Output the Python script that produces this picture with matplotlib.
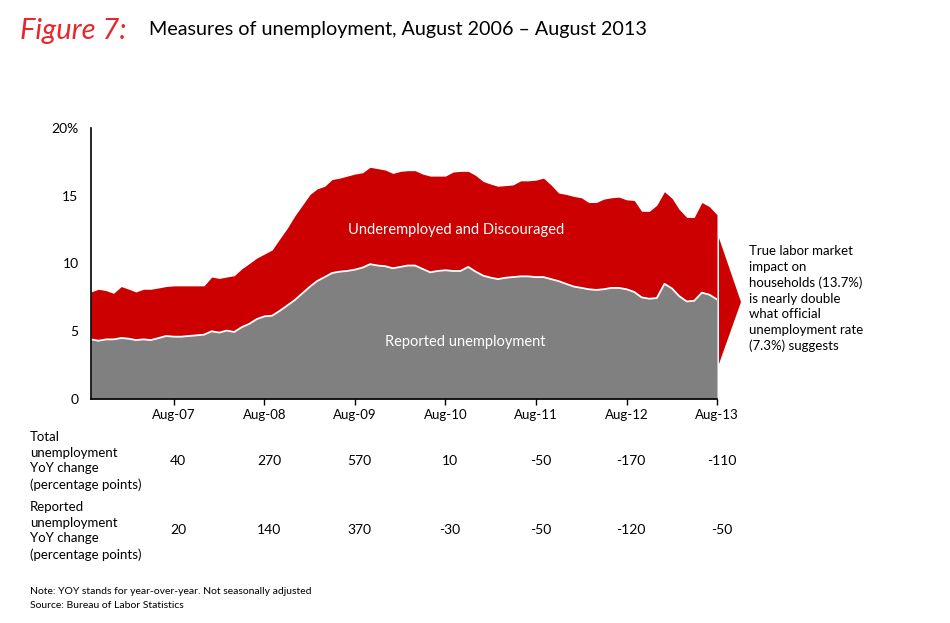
import numpy as np
import pandas as pd
import matplotlib
matplotlib.use('Agg')
import matplotlib.pyplot as plt
import matplotlib.transforms as mtransforms
from matplotlib.patches import Polygon

plt.rcParams['font.family'] = ['Lato', 'DejaVu Sans']

# Monthly data, Sep 2006 - Aug 2013 (percent)
months = pd.date_range('2006-09-01', periods=84, freq='MS')

total_unemployment = [
    7.9, 8.1, 8.0, 7.8, 8.3, 8.1, 7.9, 8.1, 8.1, 8.2, 8.3, 8.35,
    8.35, 8.35, 8.35, 8.35, 9.0, 8.9, 9.0, 9.1, 9.6, 10.0, 10.4, 10.7,
    11.0, 11.8, 12.6, 13.5, 14.3, 15.1, 15.5, 15.7, 16.2, 16.3, 16.45, 16.6,
    16.7, 17.1, 17.0, 16.9, 16.65, 16.8, 16.85, 16.85, 16.6, 16.45, 16.45, 16.45,
    16.75, 16.8, 16.8, 16.5, 16.05, 15.85, 15.7, 15.75, 15.8, 16.1, 16.1, 16.15,
    16.3, 15.8, 15.2, 15.1, 14.95, 14.85, 14.5, 14.5, 14.75, 14.85, 14.9, 14.7,
    14.65, 13.85, 13.85, 14.3, 15.3, 14.8, 14.0, 13.4, 13.4, 14.5, 14.2, 13.6,
]

reported_unemployment = [
    4.4, 4.3, 4.4, 4.4, 4.5, 4.45, 4.35, 4.4, 4.35, 4.5, 4.65, 4.6,
    4.6, 4.65, 4.7, 4.75, 5.0, 4.9, 5.05, 4.95, 5.3, 5.55, 5.9, 6.1,
    6.15, 6.5, 6.9, 7.3, 7.8, 8.3, 8.7, 9.0, 9.3, 9.4, 9.45, 9.55,
    9.7, 9.95, 9.85, 9.8, 9.65, 9.75, 9.85, 9.85, 9.6, 9.35, 9.45, 9.5,
    9.45, 9.45, 9.75, 9.4, 9.1, 8.95, 8.85, 8.95, 9.0, 9.05, 9.05, 9.0,
    9.0, 8.85, 8.7, 8.5, 8.3, 8.2, 8.1, 8.05, 8.1, 8.2, 8.2, 8.1,
    7.9, 7.5, 7.4, 7.45, 8.5, 8.15, 7.6, 7.2, 7.25, 7.85, 7.7, 7.35,
]

tick_dates = pd.to_datetime(['2007-08-01', '2008-08-01', '2009-08-01', '2010-08-01',
                             '2011-08-01', '2012-08-01', '2013-08-01'])
tick_labels = ['Aug-07', 'Aug-08', 'Aug-09', 'Aug-10', 'Aug-11', 'Aug-12', 'Aug-13']

total_yoy = ['40', '270', '570', '10', '-50', '-170', '-110']
reported_yoy = ['20', '140', '370', '-30', '-50', '-120', '-50']

RED = '#cc0000'
GREY = '#808080'

fig = plt.figure(figsize=(9.5, 6.23), dpi=100)
ax = fig.add_axes([91 / 950, 1 - 399 / 623, (717 - 91) / 950, (399 - 128) / 623])

x = months
tot = np.array(total_unemployment)
rep = np.array(reported_unemployment)

ax.fill_between(x, 0, rep, color=GREY, linewidth=0)
ax.fill_between(x, rep, tot, color=RED, linewidth=0)
ax.plot(x, rep, color='white', linewidth=1.3)

ax.set_xlim(months[0], months[-1])
ax.set_ylim(0, 20)
ax.set_yticks([0, 5, 10, 15, 20])
ax.set_yticklabels(['0', '5', '10', '15', '20%'])
ax.set_xticks(tick_dates)
ax.set_xticklabels(tick_labels)
ax.tick_params(axis='y', length=0, pad=9, labelsize=10)
ax.tick_params(axis='x', length=4, width=1, direction='out', pad=3, labelsize=9.5)
for s in ['top', 'right']:
    ax.spines[s].set_visible(False)
for s in ['left', 'bottom']:
    ax.spines[s].set_linewidth(1.2)
    ax.spines[s].set_color('black')

# in-chart labels
ax.text(pd.Timestamp('2010-09-15'), 12.5, 'Underemployed and Discouraged', color='white',
        ha='center', va='center', fontsize=10.5)
ax.text(pd.Timestamp('2010-10-20'), 4.2, 'Reported unemployment', color='white',
        ha='center', va='center', fontsize=10.5)

# red arrow and callout
arrow = Polygon([(719 / 950, 1 - 238 / 623), (741 / 950, 1 - 302 / 623), (719 / 950, 1 - 364 / 623)],
                closed=True, transform=fig.transFigure, facecolor=RED, edgecolor='none')
fig.patches.append(arrow)
fig.text(749 / 950, 1 - 245 / 623,
         'True labor market\nimpact on\nhouseholds (13.7%)\nis nearly double\nwhat official\n'
         'unemployment rate\n(7.3%) suggests',
         ha='left', va='top', fontsize=9.5, linespacing=1.36)

# title
fig.text(20 / 950, 1 - 31 / 623, 'Figure 7:', color='#e8262b', fontsize=21, style='italic',
         ha='left', va='center')
fig.text(149 / 950, 1 - 30 / 623, 'Measures of unemployment, August 2006 \u2013 August 2013',
         color='black', fontsize=14.2, ha='left', va='center')

# table below the chart
trans = mtransforms.blended_transform_factory(ax.transData, fig.transFigure)
fig.text(30 / 950, 1 - 431 / 623, 'Total\nunemployment\nYoY change\n(percentage points)',
         ha='left', va='top', fontsize=9.5, linespacing=1.36)
fig.text(30 / 950, 1 - 501 / 623, 'Reported\nunemployment\nYoY change\n(percentage points)',
         ha='left', va='top', fontsize=9.5, linespacing=1.36)
for d, a, b in zip(tick_dates, total_yoy, reported_yoy):
    xd = d + pd.Timedelta(days=18)
    ax.text(xd, 1 - 461 / 623, a, transform=trans, ha='center', va='center', fontsize=10)
    ax.text(xd, 1 - 530 / 623, b, transform=trans, ha='center', va='center', fontsize=10)

fig.text(30 / 950, 1 - 591 / 623, 'Note: YOY stands for year-over-year. Not seasonally adjusted',
         ha='left', va='center', fontsize=7.5)
fig.text(30 / 950, 1 - 605 / 623, 'Source: Bureau of Labor Statistics',
         ha='left', va='center', fontsize=7.5)

fig.savefig('out.png', dpi=100)
